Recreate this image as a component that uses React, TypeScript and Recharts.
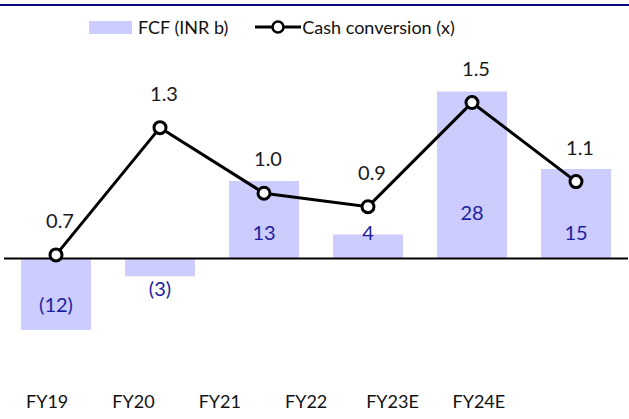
import { Bar, ComposedChart, LabelList, Line, ReferenceLine, XAxis, YAxis } from "recharts";

const categories = ["FY19", "FY20", "FY21", "FY22", "FY23E", "FY24E"];
const fcf = [-12, -3, 13, 4, 28, 15];
const cashConversion = [0.68, 1.34, 1.0, 0.93, 1.47, 1.06];

const data = categories.map((cat, i) => ({ cat, fcf: fcf[i], cc: cashConversion[i] }));

const font = "Lato, 'Noto Sans', sans-serif";
const barFill = "#CCCCFF";
const barLabelColor = "#1E1E9E";

const fmtFcf = (v: number) => (v < 0 ? `(${Math.abs(v)})` : `${v}`);

function BarValueLabel(props: any) {
  const { x, y, width, height, value } = props;
  const top = Math.min(y, y + height);
  const bottom = Math.max(y, y + height);
  const h = bottom - top;
  let cy;
  if (value >= 0) {
    cy = bottom - Math.max(25, h * 0.27);
  } else {
    cy = h >= 50 ? bottom - 25 : bottom + 13;
  }
  return (
    <text
      x={x + width / 2}
      y={cy}
      dy="0.35em"
      textAnchor="middle"
      fill={barLabelColor}
      fontFamily={font}
      fontSize={20}
    >
      {fmtFcf(value)}
    </text>
  );
}

function LineValueLabel(props: any) {
  const { x, y, value } = props;
  return (
    <text x={x + 4} y={y - 34} dy="0.35em" textAnchor="middle" fill="#1a1a1a" fontFamily={font} fontSize={20}>
      {Number(value).toFixed(1)}
    </text>
  );
}

function LegendBox() {
  return (
    <div
      style={{
        position: "absolute",
        top: 15,
        left: 89,
        display: "flex",
        alignItems: "center",
        fontFamily: font,
        fontSize: 18,
        color: "#111",
        lineHeight: "24px",
      }}
    >
      <span style={{ width: 43, height: 13, background: barFill, display: "inline-block" }} />
      <span style={{ marginLeft: 6 }}>FCF (INR b)</span>
      <svg width={46} height={20} style={{ marginLeft: 27 }}>
        <line x1={0} y1={10} x2={46} y2={10} stroke="#000" strokeWidth={3} />
        <circle cx={23} cy={10} r={5.5} fill="#fff" stroke="#000" strokeWidth={2.5} />
      </svg>
      <span style={{ marginLeft: 1 }}>Cash conversion (x)</span>
    </div>
  );
}

export default function App() {
  return (
    <div style={{ position: "fixed", left: 0, top: 0, width: 629, height: 419, background: "#fff" }}>
      <div style={{ position: "absolute", top: 4, left: 0, width: 629, height: 1.5, background: "#0A0A80" }} />
      <LegendBox />
      <ComposedChart width={629} height={419} data={data} margin={{ top: 77.5, right: 1, left: 4, bottom: 0 }}>
        <XAxis xAxisId="main" dataKey="cat" hide height={0} />
        <XAxis
          xAxisId="ticks"
          dataKey="cat"
          axisLine={false}
          tickLine={false}
          height={33}
          tickMargin={3}
          padding={{ left: 0, right: 106 }}
          interval={0}
          tick={{ fill: "#111", fontSize: 18, fontFamily: font }}
        />
        <YAxis yAxisId="left" hide domain={[-21.4, 30.35]} allowDataOverflow />
        <YAxis yAxisId="right" orientation="right" hide domain={[0, 1.6]} allowDataOverflow />
        <Bar xAxisId="main" yAxisId="left" dataKey="fcf" fill={barFill} barSize={70} isAnimationActive={false}>
          <LabelList dataKey="fcf" content={<BarValueLabel />} />
        </Bar>
        <ReferenceLine xAxisId="main" yAxisId="left" y={0} stroke="#000" strokeWidth={2} />
        <Line
          xAxisId="main"
          yAxisId="right"
          dataKey="cc"
          stroke="#000"
          strokeWidth={3}
          dot={{ r: 6, fill: "#fff", stroke: "#000", strokeWidth: 3 }}
          isAnimationActive={false}
        >
          <LabelList dataKey="cc" content={<LineValueLabel />} />
        </Line>
      </ComposedChart>
    </div>
  );
}
